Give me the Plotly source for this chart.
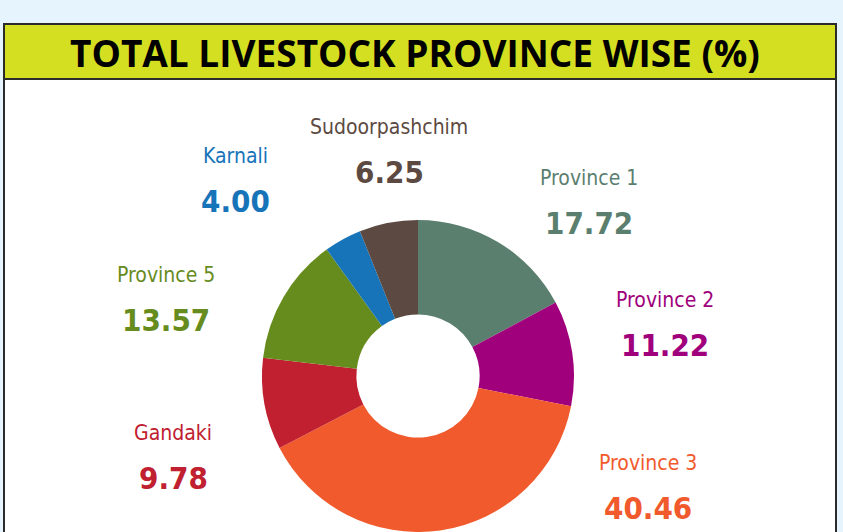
import plotly.graph_objects as go

# Share of total livestock by province (%)
provinces = ["Province 1", "Province 2", "Province 3", "Gandaki",
             "Province 5", "Karnali", "Sudoorpashchim"]
shares = [17.72, 11.22, 40.46, 9.78, 13.57, 4.00, 6.25]
colors = ["#5b7f6f", "#a0007b", "#f15a2c", "#c0202f",
          "#678c1e", "#1874b9", "#5c4a42"]

# label anchor points (pixels from top-left) for name / value pairs
label_pos = {
    "Province 1": (589, 178),
    "Province 2": (665, 300),
    "Province 3": (648, 463),
    "Gandaki": (173, 433),
    "Province 5": (166, 275),
    "Karnali": (235, 156),
    "Sudoorpashchim": (389, 127),
}

W, H = 843, 532
COND = "DejaVu Sans Condensed, sans-serif"


def px(x, y):
    return x / W, 1 - y / H


fig = go.Figure()
fig.add_trace(go.Pie(
    labels=provinces,
    values=shares,
    marker=dict(colors=colors, line=dict(width=0)),
    hole=0.395,
    sort=False,
    direction="clockwise",
    rotation=0,
    textinfo="none",
    hoverinfo="label+value",
    showlegend=False,
    domain=dict(x=[258 / W, 578 / W], y=[0, 1 - 220 / H]),
))

shapes = [
    # white panel with dark frame
    dict(type="rect", xref="paper", yref="paper",
         x0=4 / W, x1=836 / W, y0=-0.05, y1=1 - 24 / H,
         fillcolor="white", line=dict(color="#2b2b2b", width=2), layer="below"),
    # title band
    dict(type="rect", xref="paper", yref="paper",
         x0=4 / W, x1=836 / W, y0=1 - 79 / H, y1=1 - 24 / H,
         fillcolor="#d5df22", line=dict(color="#2b2b2b", width=2), layer="below"),
]

annotations = [dict(
    text="<b>TOTAL LIVESTOCK PROVINCE WISE (%)</b>",
    x=415 / W, y=1 - 52 / H, xref="paper", yref="paper",
    xanchor="center", yanchor="middle", showarrow=False,
    font=dict(family="Open Sans", size=37, color="#000000"),
)]

for name, val, col in zip(provinces, shares, colors):
    cx, cy = label_pos[name]
    x, y = px(cx, cy)
    annotations.append(dict(
        text=name, x=x, y=y, xref="paper", yref="paper",
        xanchor="center", yanchor="middle", showarrow=False,
        font=dict(family=COND, size=21, color=col),
    ))
    x2, y2 = px(cx, cy + 45)
    annotations.append(dict(
        text=f"<b>{val:.2f}</b>", x=x2, y=y2, xref="paper", yref="paper",
        xanchor="center", yanchor="middle", showarrow=False,
        font=dict(family=COND, size=31, color=col),
    ))

fig.update_layout(
    width=W, height=H,
    margin=dict(l=0, r=0, t=0, b=0),
    paper_bgcolor="#e6f5fd",
    plot_bgcolor="#e6f5fd",
    shapes=shapes,
    annotations=annotations,
)

fig.write_html("out.html")
